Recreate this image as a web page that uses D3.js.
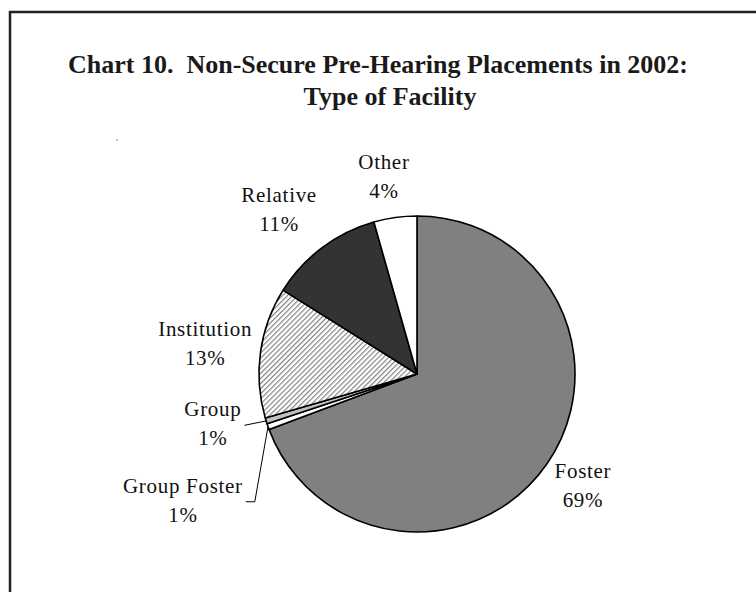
<!DOCTYPE html>
<html><head><meta charset="utf-8">
<script src="https://cdn.jsdelivr.net/npm/d3@7"></script>
<style>body{margin:0;background:#fff} svg{display:block}</style>
</head><body>
<script>
// ---- data ----
const categories = ["Foster", "Group Foster", "Group", "Institution", "Relative", "Other"];
const values = [69.3, 0.6, 0.6, 13.4, 11.7, 4.4];
const percentLabels = ["69%", "1%", "1%", "13%", "11%", "4%"];
const titleLines = ["Chart 10.  Non-Secure Pre-Hearing Placements in 2002:", "Type of Facility"];

// ---- styles / layout ----
const W = 756, H = 592;
const fills = ["#808080", "#ffffff", "#c0c0c0", "url(#hatch)", "#333333", "#ffffff"];
// label placement: radius from center and angle tweak (degrees) relative to slice mid-angle
const labelLayout = {
  "Foster":       {r: 200, da: -0.8},
  "Group Foster": {r: 266, da: -8.9, leader: "elbow"},
  "Group":        {r: 210, da: 3.7,  leader: "straight"},
  "Institution":  {r: 214, da: 0.3},
  "Relative":     {r: 215, da: -3.0},
  "Other":        {r: 200, da: -1.6}
};
const cx = 417, cy = 374, R = 158;
const FONT = "'Liberation Serif','Times New Roman',serif";

const svg = d3.select("body").append("svg").attr("width", W).attr("height", H);
svg.append("rect").attr("width", W).attr("height", H).attr("fill", "#fff");

const defs = svg.append("defs");
const pat = defs.append("pattern").attr("id", "hatch")
  .attr("patternUnits", "userSpaceOnUse").attr("width", 3.6).attr("height", 3.6)
  .attr("patternTransform", "rotate(45)");
pat.append("rect").attr("width", 3.6).attr("height", 3.6).attr("fill", "#fff");
pat.append("line").attr("x1", 0.6).attr("y1", 0).attr("x2", 0.6).attr("y2", 3.6)
  .attr("stroke", "#7a7a7a").attr("stroke-width", 1.1);

// frame (extends beyond right/bottom of the picture)
svg.append("rect").attr("x", 10).attr("y", 12).attr("width", 900).attr("height", 900)
  .attr("fill", "none").attr("stroke", "#222").attr("stroke-width", 2.5);

// stray dot
svg.append("circle").attr("cx", 117).attr("cy", 140).attr("r", 0.7).attr("fill", "#666");

// title
const title = svg.append("text").attr("font-family", FONT).attr("font-weight", "bold")
  .attr("font-size", 26).attr("fill", "#1a1a1a").attr("text-anchor", "middle")
  .style("white-space", "pre");
title.append("tspan").attr("x", 378).attr("y", 73).text(titleLines[0]);
title.append("tspan").attr("x", 390).attr("y", 105).text(titleLines[1]);

// pie
const data = categories.map((c, i) => ({cat: c, value: values[i], pct: percentLabels[i], fill: fills[i]}));
const pie = d3.pie().sort(null).value(d => d.value).startAngle(0).endAngle(2 * Math.PI);
const arcs = pie(data);
const arc = d3.arc().innerRadius(0).outerRadius(R);

const g = svg.append("g").attr("transform", `translate(${cx},${cy})`);
g.selectAll("path.slice").data(arcs).enter().append("path")
  .attr("class", "slice")
  .attr("d", arc)
  .attr("fill", d => d.data.fill)
  .attr("stroke", "#000").attr("stroke-width", 1.6).attr("stroke-linejoin", "round");

// labels
const rad = Math.PI / 180;
arcs.forEach(a => {
  const L = labelLayout[a.data.cat];
  const mid = (a.startAngle + a.endAngle) / 2;
  const ang = mid + L.da * rad;
  const lx = L.r * Math.sin(ang), ly = -L.r * Math.cos(ang);
  const t = g.append("text").attr("font-family", FONT).attr("font-size", 21)
    .attr("fill", "#111").attr("text-anchor", "middle").attr("letter-spacing", 0.7);
  t.append("tspan").attr("x", lx).attr("y", ly - 7.5).text(a.data.cat);
  t.append("tspan").attr("x", lx).attr("y", ly + 21.5).text(a.data.pct);
  if (L.leader) {
    const bb = t.node().getBBox();
    const ex = R * Math.sin(mid), ey = -R * Math.cos(mid);
    const rx = bb.x + bb.width + 3;
    let pts;
    if (L.leader === "straight") {
      pts = [[rx, ly + 2], [ex, ey]];
    } else {
      pts = [[rx, ly + 1.5], [rx + 9, ly + 1.5], [ex, ey]];
    }
    g.append("path").attr("d", d3.line()(pts)).attr("fill", "none")
      .attr("stroke", "#000").attr("stroke-width", 1);
  }
});
</script>
</body></html>
